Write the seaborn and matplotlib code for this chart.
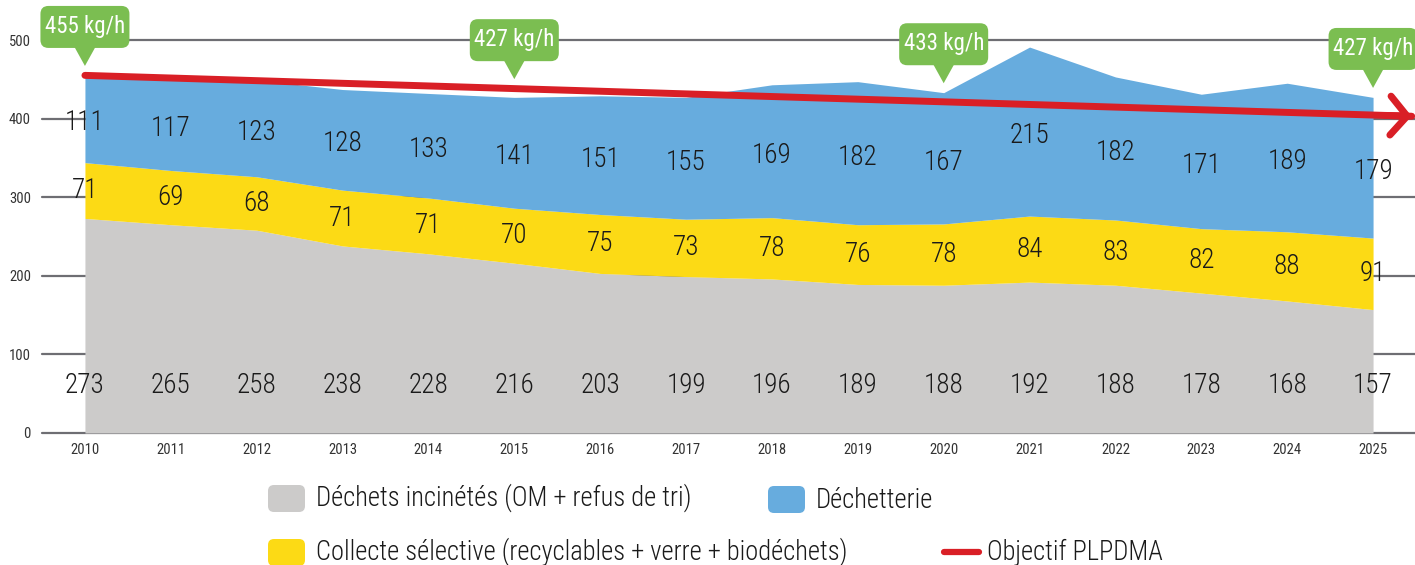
import matplotlib
matplotlib.use("Agg")
import matplotlib.pyplot as plt
import seaborn as sns
from matplotlib import font_manager
from matplotlib.lines import Line2D
from matplotlib.patches import FancyBboxPatch, Polygon
from matplotlib.transforms import Affine2D, IdentityTransform, ScaledTranslation

years = list(range(2010, 2026))
incineres = [273, 265, 258, 238, 228, 216, 203, 199, 196, 189, 188, 192, 188, 178, 168, 157]
collecte = [71, 69, 68, 71, 71, 70, 75, 73, 78, 76, 78, 84, 83, 82, 88, 91]
dechetterie = [111, 117, 123, 128, 133, 141, 151, 155, 169, 182, 167, 215, 182, 171, 189, 179]

objectif_years = [2010, 2025.45]
objectif_values = [455, 403]

callout_years = [2010, 2015, 2020, 2025]

labels = [
    "Déchets incinétés (OM + refus de tri)",
    "Collecte sélective (recyclables + verre + biodéchets)",
    "Déchetterie",
    "Objectif PLPDMA",
]

GRAY = "#CCCBCA"
YELLOW = "#FCDA15"
BLUE = "#67ACDE"
RED = "#D91F26"
GREEN = "#7BBE51"
GRID = "#6E6E73"
INK = "#1a1a1a"

sns.set_theme(style="white")
installed = {f.name for f in font_manager.fontManager.ttflist}
fams = [f for f in ["Roboto Condensed", "Liberation Sans Narrow", "Roboto"] if f in installed]
plt.rcParams["font.family"] = fams + ["DejaVu Sans"]

W, H = 1415, 565
PX = 0.786  # pixels per data unit on y
fig = plt.figure(figsize=(W / 100, H / 100), dpi=100)
ax = fig.add_axes([42 / W, (H - 433) / H, 1374 / W, 433 / H])

ax.stackplot(years, incineres, collecte, dechetterie,
             colors=[GRAY, YELLOW, BLUE], linewidth=0, zorder=2)

ax.set_xlim(2009.5, 2025.5)
ax.set_ylim(0, 433 / PX)
ax.set_yticks([0, 100, 200, 300, 400, 500])
ax.set_xticks(years)
ax.tick_params(axis="both", length=0, labelsize=10.5, labelcolor="#333333")
ax.tick_params(axis="y", pad=8)
ax.tick_params(axis="x", pad=7)
ax.grid(axis="y", color=GRID, lw=1.6)
ax.grid(axis="x", visible=False)
ax.set_axisbelow(True)
for gl in ax.get_ygridlines():
    gl.set_clip_on(False)
sns.despine(ax=ax, left=True, bottom=True)

# band labels
for i, yr in enumerate(years):
    g, c, d = incineres[i], collecte[i], dechetterie[i]
    for y, v in [(61, g), (g + c / 2, c), (g + c + d / 2 - 5, d)]:
        ax.text(yr, y, str(v), ha="center", va="center", fontsize=19.5,
                fontweight="light", color=INK, zorder=4)

# objective line with arrow
sns.lineplot(x=objectif_years, y=objectif_values, ax=ax, color=RED, lw=5,
             solid_capstyle="round", zorder=5, clip_on=False)
ax.annotate("", xy=(objectif_years[1], objectif_values[1]),
            xytext=(objectif_years[1] - 0.3, objectif_values[1] + 1),
            arrowprops=dict(arrowstyle="->,head_length=0.6,head_width=0.7", mutation_scale=20,
                            lw=5, color=RED, shrinkA=0, shrinkB=0, capstyle="round"),
            annotation_clip=False, zorder=5)

# callouts: box + pointer drawn in pixel offsets from the tip
for yr in callout_years:
    i = years.index(yr)
    total = incineres[i] + collecte[i] + dechetterie[i]
    obj = objectif_values[0] + (objectif_values[1] - objectif_values[0]) * (yr - objectif_years[0]) / (objectif_years[1] - objectif_years[0])
    tip = max(total, obj) + 12
    trans = Affine2D().scale(1 / 100) + fig.dpi_scale_trans + ScaledTranslation(yr, tip, ax.transData)
    ax.add_patch(Polygon([(-10.5, 19), (10.5, 19), (0, 0)], closed=True, fc=GREEN, ec="none",
                         transform=trans, clip_on=False, zorder=6))
    ax.add_patch(FancyBboxPatch((-44.5, 18), 89, 42, boxstyle="round,pad=0,rounding_size=8",
                                fc=GREEN, ec="none", transform=trans, clip_on=False, zorder=6))
    ax.text(0, 39.5, f"{total} kg/h", transform=trans, ha="center", va="center",
            color="white", fontsize=16.5, zorder=7, clip_on=False)

# legend
def patch(x, y, color):
    fig.add_artist(FancyBboxPatch((x, H - y - 27), 37, 27, boxstyle="round,pad=0,rounding_size=6",
                                  fc=color, ec="none", transform=IdentityTransform()))

LEG = 19.1
patch(268, 485, GRAY)
fig.text(316 / W, 1 - 498 / H, labels[0], ha="left", va="center", fontsize=LEG, fontweight="light", color=INK)
patch(768, 486, BLUE)
fig.text(816 / W, 1 - 500 / H, labels[2], ha="left", va="center", fontsize=LEG, fontweight="light", color=INK)
patch(268, 539, YELLOW)
fig.text(316 / W, 1 - 552 / H, labels[1], ha="left", va="center", fontsize=LEG, fontweight="light", color=INK)
fig.add_artist(Line2D([944 / W, 979 / W], [1 - 552 / H] * 2, transform=fig.transFigure,
                      color=RED, lw=4.5, solid_capstyle="round"))
fig.text(987 / W, 1 - 552 / H, labels[3], ha="left", va="center", fontsize=LEG, fontweight="light", color=INK)

fig.savefig("out.png", dpi=100)
